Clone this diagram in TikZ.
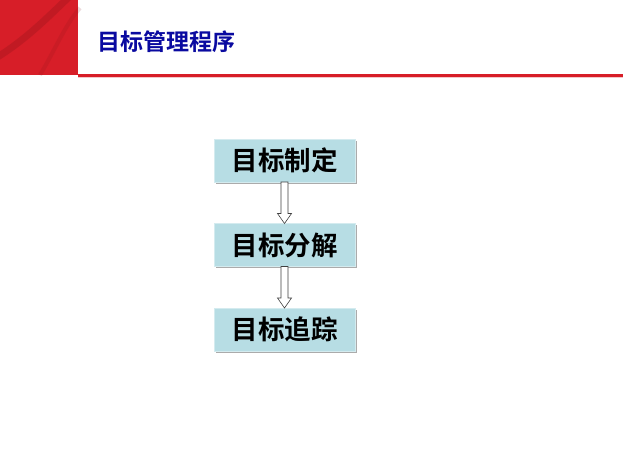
\documentclass[tikz,border=0pt]{standalone}
\usepackage{fontspec}
\newfontfamily\cjk{Noto Sans CJK SC}[BoldFont={Noto Sans CJK SC Bold}]
\usetikzlibrary{positioning, shadows}

\definecolor{banner}{HTML}{D71E28}
\definecolor{titleblue}{HTML}{0A0AA0}
\definecolor{boxfill}{HTML}{B7DDE4}

\begin{document}
\begin{tikzpicture}[x=1pt, y=-1pt, node distance={84.5pt},
  step box/.style = {draw=boxfill!60!white, fill=boxfill, minimum width=141pt, minimum height=43pt, outer sep=0pt, inner sep=0pt,
    drop shadow={shadow xshift=1.5pt, shadow yshift=-1.5pt, fill=black!55, opacity=0.6},
    font=\cjk\bfseries\fontsize{26.5pt}{28pt}\selectfont},
  hollow/.style = {draw=black!75, fill=white, line width=0.6pt, line join=miter}]
\useasboundingbox (0,0) rectangle (623,467);
\fill[white] (0,0) rectangle (623,467);

% red corner and rule
\fill[banner] (0,0) rectangle (78,75);
\draw[banner!60!black, opacity=0.25, line width=7pt, line cap=round] (-4,58) .. controls (25,40) and (45,20) .. (70,-4);
\draw[banner!60!black, opacity=0.15, line width=4pt] (40,75) .. controls (55,50) and (65,25) .. (80,8);
\fill[banner!25!white] (78,76.5) rectangle (623,78);
\fill[banner] (78,74.3) rectangle (623,76.5);

\node[anchor=west, text=titleblue, font=\cjk\bfseries\fontsize{23pt}{25pt}\selectfont] (title) at (94,42) {目标管理程序};

\node[step box] (0) at (284.5,160.5) {目标制定};
\node[step box, below of=0] (1) {目标分解};
\node[step box, below of=1] (2) {目标追踪};

\draw[hollow] ([xshift=-3.5pt]0.south) -- ++(0,31.5) -- ++(-3.5,0) -- (1.north) -- ++(7,-10) -- ++(-3.5,0) -- ([xshift=3.5pt]0.south) -- cycle;
\draw[hollow] ([xshift=-3.5pt]1.south) -- ++(0,31.5) -- ++(-3.5,0) -- (2.north) -- ++(7,-10) -- ++(-3.5,0) -- ([xshift=3.5pt]1.south) -- cycle;
\end{tikzpicture}
\end{document}
